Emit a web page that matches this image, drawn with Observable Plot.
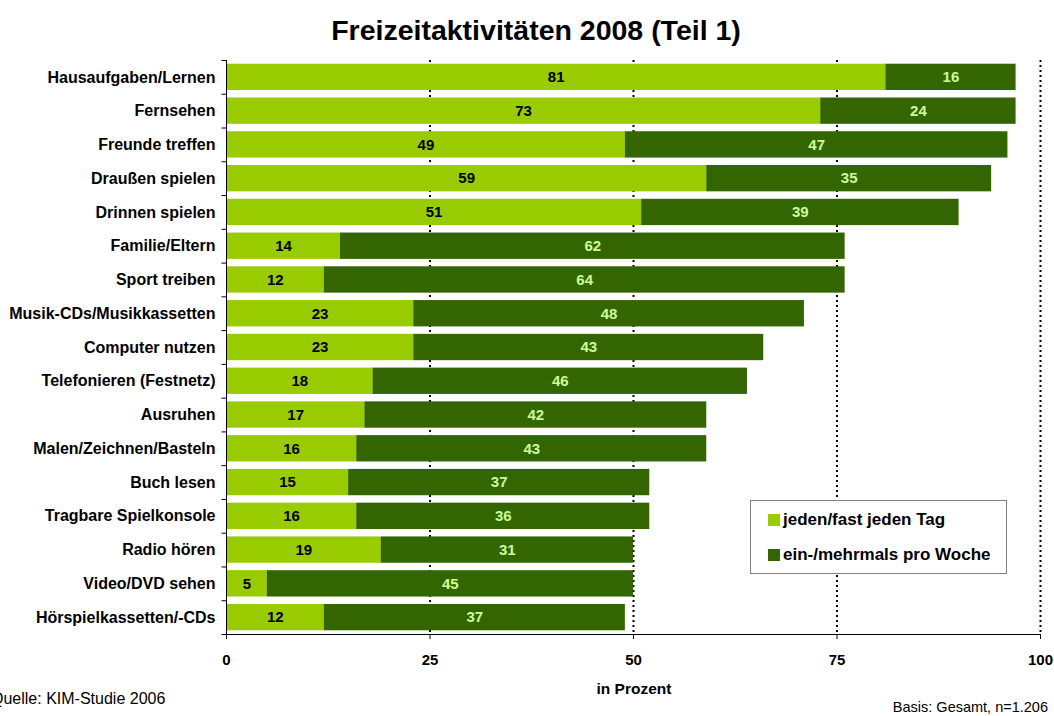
<!DOCTYPE html>
<html><head><meta charset="utf-8">
<script src="https://cdn.jsdelivr.net/npm/d3@7"></script>
<script src="https://cdn.jsdelivr.net/npm/@observablehq/plot@0.6"></script>
<style>
body{margin:0;font-family:"Liberation Sans",Arial,sans-serif;width:1054px;height:716px;position:relative;overflow:hidden;background:#fff;color:#000}
#title{position:absolute;left:0;top:13px;width:1054px;padding-left:18px;box-sizing:border-box;text-align:center;font-size:28.5px;font-weight:bold;line-height:34px}
#chart{position:absolute;left:0;top:50px}
#xlabel{position:absolute;left:584px;width:100px;top:680px;text-align:center;font-size:15.5px;font-weight:bold;line-height:18px}
#source{position:absolute;left:-9px;top:690px;font-size:16px;line-height:18px}
#basis{position:absolute;right:6px;top:699px;font-size:14.5px;line-height:17px}
#legend{position:absolute;left:750px;top:500px;width:257px;height:74px;border:1px solid #808080;box-sizing:border-box;background:#fff}
.item{position:absolute;left:17px;font-size:17px;font-weight:bold;display:flex;align-items:center;line-height:20px;white-space:nowrap}
.sw{width:12px;height:12px;margin-right:3px}
</style></head><body>
<div id="title">Freizeitaktivitäten 2008 (Teil 1)</div>
<div id="chart"></div>
<div id="xlabel">in Prozent</div>
<div id="source">Quelle: KIM-Studie 2006</div>
<div id="basis">Basis: Gesamt, n=1.206</div>
<div id="legend"></div>
<script>
const categories = ["Hausaufgaben/Lernen","Fernsehen","Freunde treffen","Draußen spielen","Drinnen spielen","Familie/Eltern","Sport treiben","Musik-CDs/Musikkassetten","Computer nutzen","Telefonieren (Festnetz)","Ausruhen","Malen/Zeichnen/Basteln","Buch lesen","Tragbare Spielkonsole","Radio hören","Video/DVD sehen","Hörspielkassetten/-CDs"];
const seriesNames = ["jeden/fast jeden Tag","ein-/mehrmals pro Woche"];
const daily = [81,73,49,59,51,14,12,23,23,18,17,16,15,16,19,5,12];
const weekly = [16,24,47,35,39,62,64,48,43,46,42,43,37,36,31,45,37];
const xTicks = [0,25,50,75,100];
const gridValues = [25,50,75,100];
const barColors = ["#99CC00","#336600"];
const labelColors = ["#000000","#CCFF99"];

const rows = [];
categories.forEach((c,i)=>{
  rows.push({cat:c, series:seriesNames[0], value:daily[i]});
  rows.push({cat:c, series:seriesNames[1], value:weekly[i]});
});
const barColorOf = s => barColors[seriesNames.indexOf(s)];
const labelColorOf = s => labelColors[seriesNames.indexOf(s)];

const H = 666, mT = 10, mB = 82;
const step = (H - mT - mB) / categories.length;

const chart = Plot.plot({
  width:1054, height:H,
  marginTop:mT, marginBottom:mB, marginLeft:226, marginRight:14,
  style:{fontFamily:"Liberation Sans, Arial, sans-serif", background:"#fff"},
  x:{domain:[0,100]},
  y:{domain:categories, paddingInner:0.22, paddingOuter:0.11, round:false},
  color:{type:"identity"},
  marks:[
    Plot.ruleX(gridValues,{stroke:"#000", strokeWidth:2, strokeDasharray:"2,3"}),
    Plot.barX(rows, Plot.stackX({y:"cat", x:"value", fill:d=>barColorOf(d.series)})),
    Plot.text(rows, Plot.stackX({y:"cat", x:"value", text:d=>String(d.value), fill:d=>labelColorOf(d.series), fontWeight:"bold", fontSize:15})),
    Plot.frame({anchor:"left", stroke:"#000"}),
    Plot.frame({anchor:"bottom", stroke:"#000"}),
    Plot.ruleY(categories,{y:d=>d, x1:-0.55, x2:0, dy:-step/2, stroke:"#000"}),
    Plot.ruleY(categories.slice(-1),{y:d=>d, x1:-0.55, x2:0, dy:step/2, stroke:"#000"}),
    Plot.axisX({ticks:xTicks, tickSize:5, tickPadding:15, fontWeight:"bold", fontSize:15, label:null}),
    Plot.axisY({tickSize:0, tickPadding:11, fontWeight:"bold", fontSize:16, label:null})
  ]
});
document.getElementById("chart").appendChild(chart);

const legend = document.getElementById("legend");
seriesNames.forEach((s,i)=>{
  const it = document.createElement("div");
  it.className = "item";
  it.style.top = (i===0? 9 : 44) + "px";
  it.innerHTML = `<span class="sw" style="background:${barColors[i]}"></span><span>${s}</span>`;
  legend.appendChild(it);
});
</script>
</body></html>
